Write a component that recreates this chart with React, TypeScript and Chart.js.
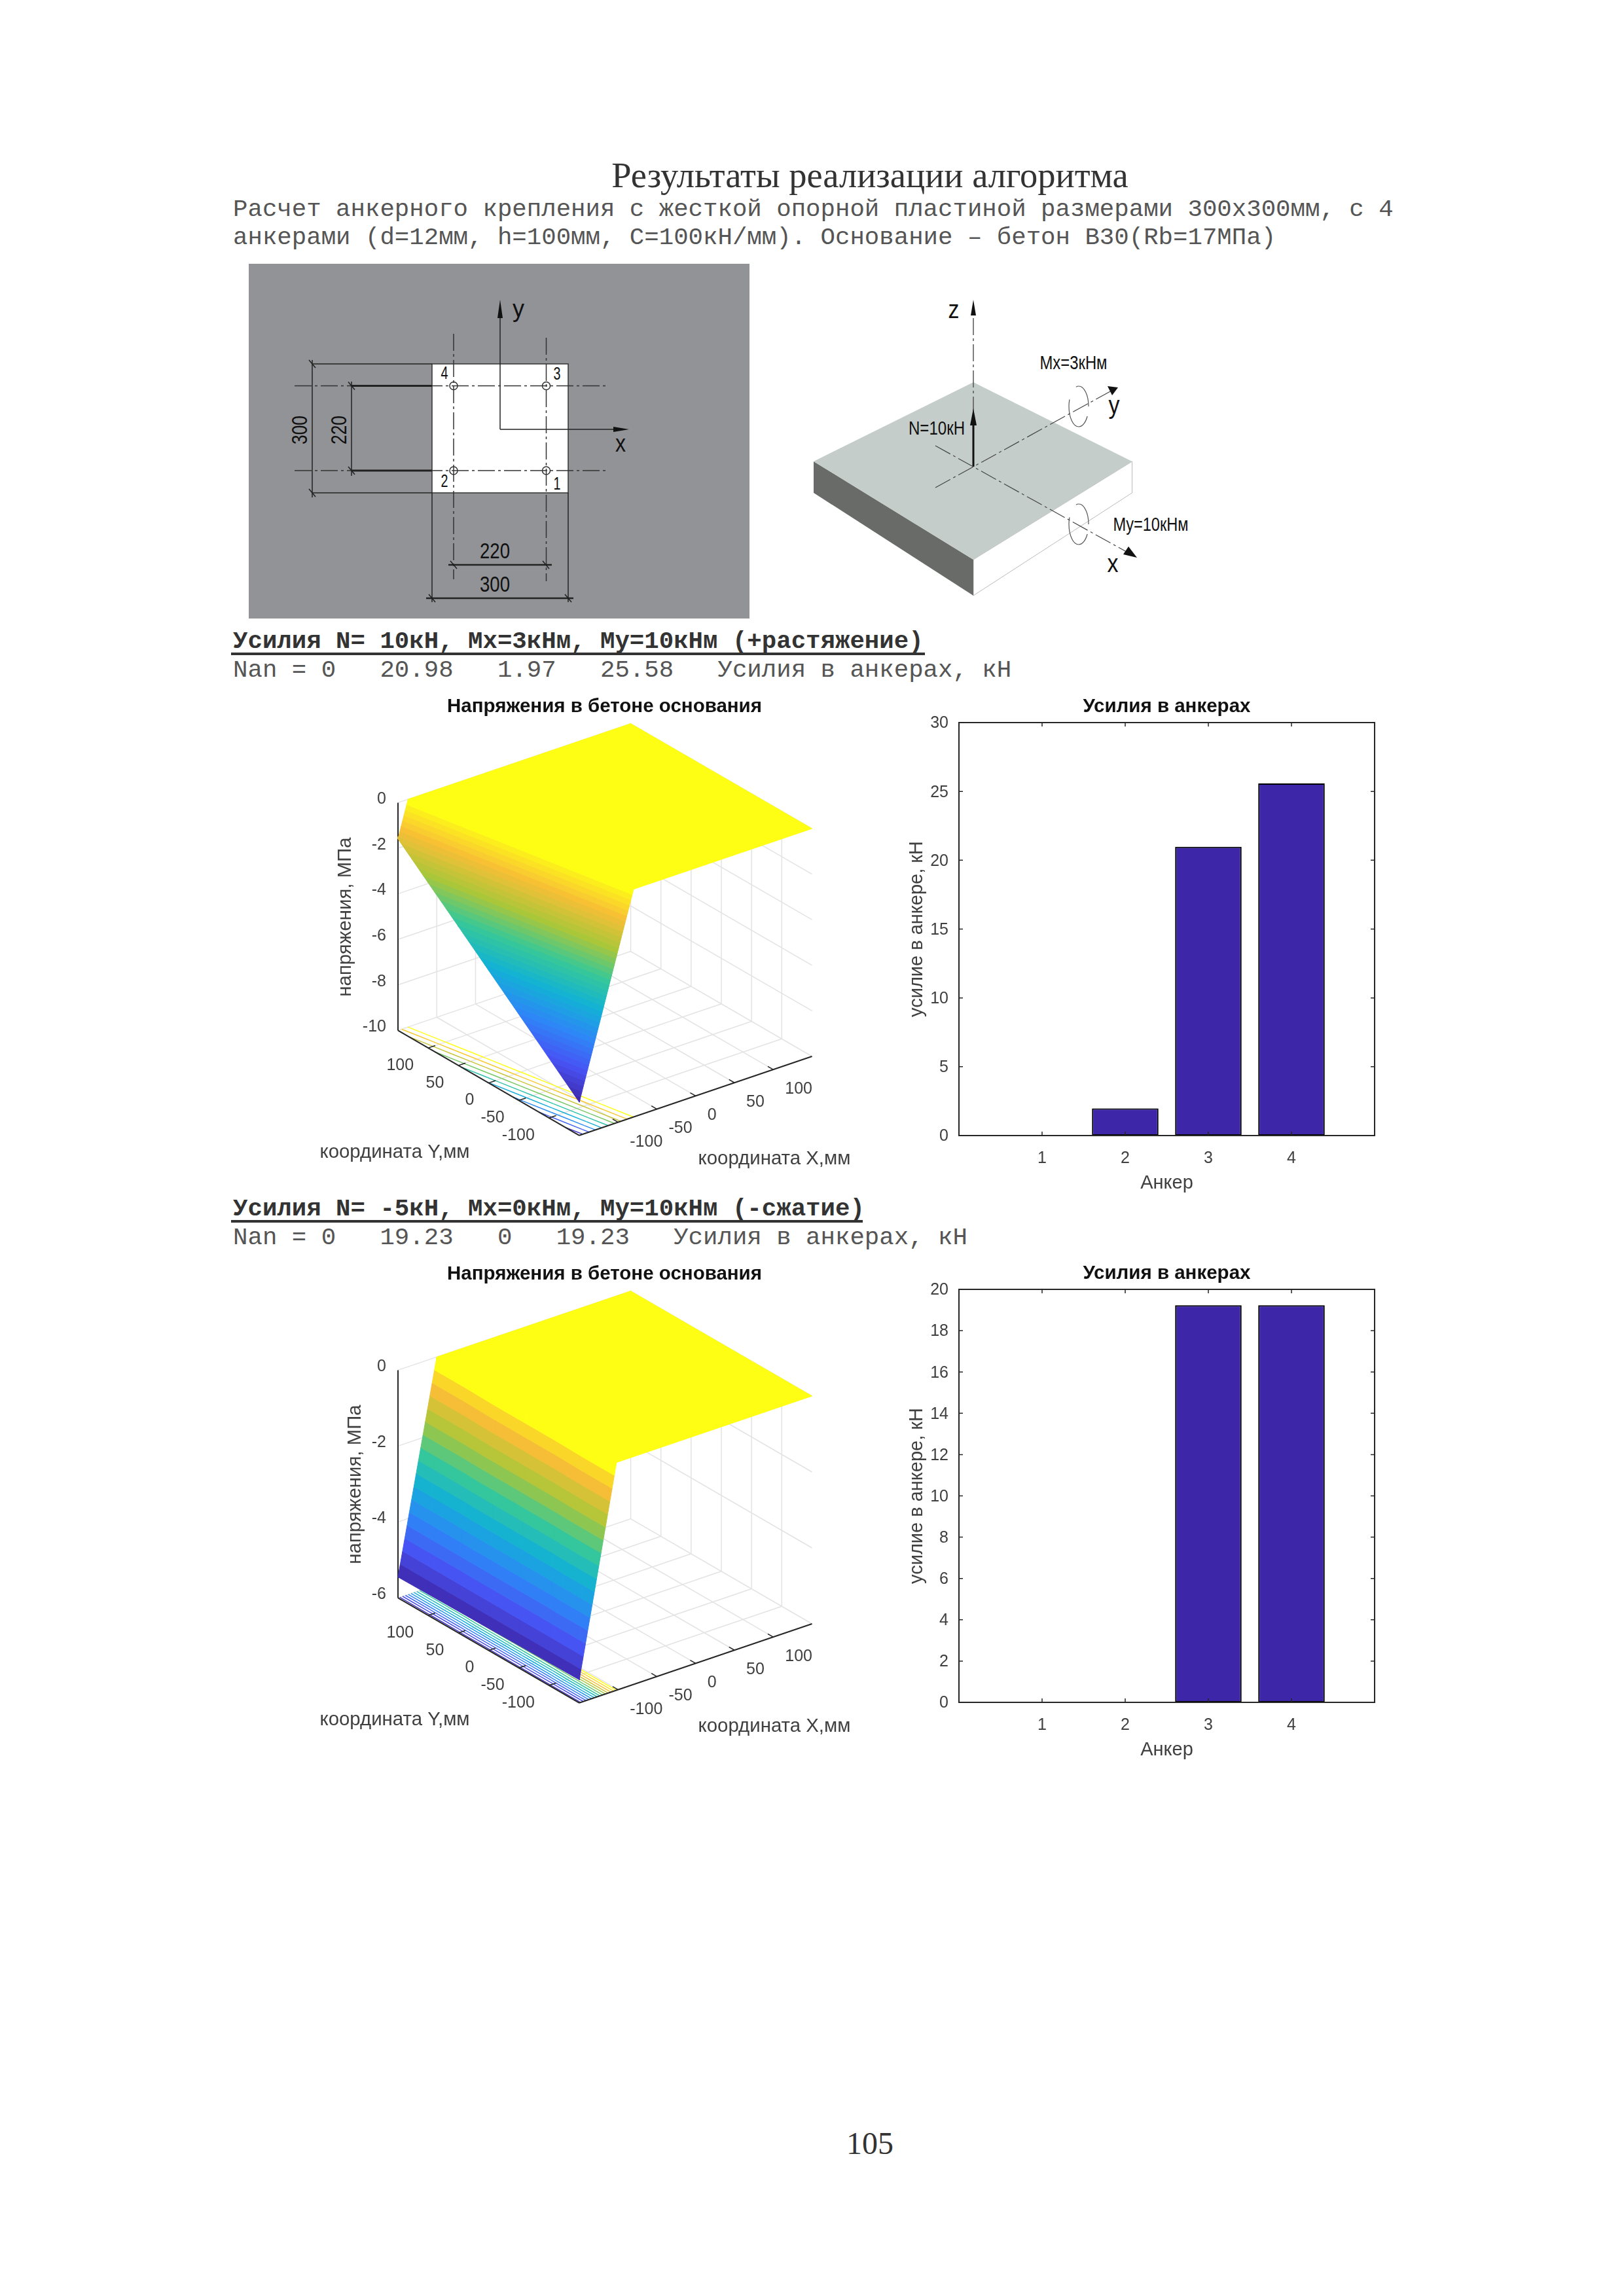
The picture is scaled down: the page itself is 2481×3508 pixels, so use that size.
import React, { useEffect, useRef } from "react";
import { Chart, registerables } from "chart.js";

Chart.register(...registerables);

// ---------- data ----------
const anchors = [1, 2, 3, 4];
const forcesCase1 = [0, 1.97, 20.98, 25.58];
const forcesCase2 = [0, 0, 19.23, 19.23];

const surfaceY = [-150, -100, -50, 0, 50, 100, 150];
const edgeStressCase1 = [-8.54, -7.38, -6.22, -5.06, -3.9, -2.75, -1.59];
const zeroLineCase1 = [-80, -89.5, -99, -108.5, -118, -127.5, -137];
const edgeStressCase2 = [-5.39, -5.4, -5.41, -5.42, -5.43, -5.44, -5.45];
const zeroLineCase2 = [-102, -102, -101, -101, -101, -100, -100];

const contourLevelsCase1 = [-8, -7, -6, -5, -4, -3, -2, -1, -0.02];
const contourLevelsCase2 = [-5.2, -4.8, -4.4, -4, -3.6, -3.2, -2.8, -2.4, -2, -1.6, -1.2, -0.8, -0.4, -0.02];

const planTicks = [-100, -50, 0, 50, 100];
const stressTicksCase1 = [-10, -8, -6, -4, -2, 0];
const stressTicksCase2 = [-6, -4, -2, 0];

const FS = "'Liberation Sans', Arial, sans-serif";
const parula = [
  [0.2422, 0.1504, 0.6603], [0.281, 0.3228, 0.9579], [0.1786, 0.5289, 0.9682], [0.0689, 0.6948, 0.8394],
  [0.2161, 0.7843, 0.5923], [0.672, 0.7793, 0.2227], [0.97, 0.7459, 0.2099], [0.995, 0.995, 0.0805],
];
function colormap(t: number) {
  const v = Math.max(0, Math.min(1, t)) * (parula.length - 1);
  const i = Math.min(parula.length - 2, Math.floor(v));
  const f = v - i;
  const c = parula[i].map((a, k) => Math.round(255 * (a + (parula[i + 1][k] - a) * f)));
  return `rgb(${c[0]},${c[1]},${c[2]})`;
}

type P3 = { X: number; Y: number; Z: number };
type SurfaceCfg = {
  top: number; edge: number[]; zero: number[]; levels: number[]; zTicks: number[]; bands: number;
  zTitleX: number;
};

function clip(poly: P3[], level: number, keepAbove: boolean) {
  const out: P3[] = [];
  const inside = (p: P3) => (keepAbove ? p.Z >= level : p.Z <= level);
  for (let i = 0; i < poly.length; i++) {
    const a = poly[i], b = poly[(i + 1) % poly.length];
    if (inside(a)) out.push(a);
    if (inside(a) !== inside(b)) {
      const t = (level - a.Z) / (b.Z - a.Z);
      out.push({ X: a.X + (b.X - a.X) * t, Y: a.Y + (b.Y - a.Y) * t, Z: level });
    }
  }
  return out;
}

function SurfaceChart({ cfg }: { cfg: SurfaceCfg }) {
  const ref = useRef<HTMLCanvasElement>(null);
  const L = 430, W = 880, H = 740, T = cfg.top;
  useEffect(() => {
    const zMin = cfg.zTicks[0];
    const front = { x: 885, y: T + 674.8 }, right = { x: 1240.5, y: T + 554 }, left = { x: 608, y: T + 514.4 };
    const zPx = 348;
    const project = (p: P3) => {
      const u = (p.X + 150) / 300, v = (p.Y + 150) / 300, w = (p.Z - zMin) / -zMin;
      return {
        x: front.x + u * (right.x - front.x) + v * (left.x - front.x),
        y: front.y + u * (right.y - front.y) + v * (left.y - front.y) - w * zPx,
      };
    };
    const datasets: any[] = [];
    const line = (pts: P3[], color: string, width: number) =>
      datasets.push({ data: pts.map(project), borderColor: color, borderWidth: width, pointRadius: 0, fill: false, tension: 0 });
    const grid = "#e3e3e3";
    for (const t of planTicks) {
      line([{ X: t, Y: -150, Z: zMin }, { X: t, Y: 150, Z: zMin }], grid, 1.5);
      line([{ X: -150, Y: t, Z: zMin }, { X: 150, Y: t, Z: zMin }], grid, 1.5);
      line([{ X: 150, Y: t, Z: zMin }, { X: 150, Y: t, Z: 0 }], grid, 1.5);
      line([{ X: t, Y: 150, Z: zMin }, { X: t, Y: 150, Z: 0 }], grid, 1.5);
    }
    for (const z of cfg.zTicks) {
      line([{ X: -150, Y: 150, Z: z }, { X: 150, Y: 150, Z: z }, { X: 150, Y: -150, Z: z }], grid, 1.5);
    }
    line([{ X: 150, Y: 150, Z: zMin }, { X: 150, Y: 150, Z: 0 }], grid, 1.5);

    // mesh
    const rows = surfaceY.map((Y, i) => [
      { X: -150, Y, Z: cfg.edge[i] }, { X: cfg.zero[i], Y, Z: 0 }, { X: 150, Y, Z: 0 },
    ]);
    const tris: P3[][] = [];
    for (let r = 0; r < rows.length - 1; r++)
      for (let c = 0; c < 2; c++) {
        tris.push([rows[r][c], rows[r][c + 1], rows[r + 1][c + 1]]);
        tris.push([rows[r][c], rows[r + 1][c + 1], rows[r + 1][c]]);
      }
    const sMin = Math.min(...cfg.edge);
    // contours on the floor
    for (const lev of cfg.levels) {
      const col = colormap((lev - sMin) / -sMin);
      for (const tri of tris) {
        const pts: P3[] = [];
        for (let i = 0; i < 3; i++) {
          const a = tri[i], b = tri[(i + 1) % 3];
          if ((a.Z > lev) !== (b.Z > lev)) {
            const t = (lev - a.Z) / (b.Z - a.Z);
            pts.push({ X: a.X + (b.X - a.X) * t, Y: a.Y + (b.Y - a.Y) * t, Z: zMin });
          }
        }
        if (pts.length === 2) line(pts, col, 1.5);
      }
    }
    // axes
    const axis = "#262626";
    line([{ X: -150, Y: 150, Z: zMin }, { X: -150, Y: 150, Z: 0 }], axis, 2);
    line([{ X: -150, Y: 150, Z: zMin }, { X: -150, Y: -150, Z: zMin }], axis, 2);
    line([{ X: -150, Y: -150, Z: zMin }, { X: 150, Y: -150, Z: zMin }], axis, 2);
    for (const t of planTicks) {
      line([{ X: -150, Y: t, Z: zMin }, { X: -141, Y: t, Z: zMin }], axis, 1.5);
      line([{ X: t, Y: -150, Z: zMin }, { X: t, Y: -141, Z: zMin }], axis, 1.5);
    }
    // surface bands
    const step = -sMin / cfg.bands;
    for (let b = 0; b < cfg.bands; b++) {
      const lo = sMin + b * step, hi = b === cfg.bands - 1 ? 0 : lo + step;
      const col = colormap(b === cfg.bands - 1 ? 1 : (b + 0.5) / cfg.bands);
      for (const tri of tris) {
        let poly = clip(tri, lo - 1e-9, true);
        if (poly.length >= 3) poly = clip(poly, hi + 1e-9, false);
        if (poly.length >= 3) {
          datasets.push({
            data: [...poly, poly[0]].map(project), borderColor: col, backgroundColor: col, borderWidth: 1,
            pointRadius: 0, fill: "shape", tension: 0,
          });
        }
      }
    }
    // Chart.js paints the first dataset last, so the list is turned round to paint floor, axes, then surface.
    datasets.reverse();
    const labels = {
      id: "surfaceLabels",
      afterDraw(chart: any) {
        const ctx = chart.ctx;
        const put = (s: string, x: number, y: number, align: CanvasTextAlign, font: string, color: string, rot = 0) => {
          ctx.save();
          ctx.translate(x - L, y - T);
          ctx.rotate(rot);
          ctx.font = font; ctx.fillStyle = color; ctx.textAlign = align; ctx.textBaseline = "middle";
          ctx.fillText(s, 0, 0);
          ctx.restore();
        };
        const tick = `25px ${FS}`, c = "#404040";
        for (const z of cfg.zTicks) {
          const p = project({ X: -150, Y: 150, Z: z });
          put(String(z), p.x - 18, p.y - 5, "right", tick, c);
        }
        for (const t of planTicks) {
          const p = project({ X: -150, Y: t, Z: zMin });
          put(String(t), p.x - 22, p.y + 27, "right", tick, c);
          const q = project({ X: t, Y: -150, Z: zMin });
          put(String(t), q.x + 18, q.y + 30, "left", tick, c);
        }
        const lab = `29.4px ${FS}`;
        put("координата Y,мм", 603, T + 701, "center", lab, c);
        put("координата X,мм", 1183, T + 711, "center", lab, c);
        put("напряжения, МПа", cfg.zTitleX + 2, T + 341, "center", lab, c, -Math.PI / 2);
        put("Напряжения в бетоне основания", 923.5, T + 20, "center", `bold 29.5px ${FS}`, "#111");
      },
    };
    const chart = new Chart(ref.current as HTMLCanvasElement, {
      type: "line",
      data: { datasets },
      plugins: [labels],
      options: {
        responsive: false, animation: false, devicePixelRatio: 1,
        layout: { padding: 0 },
        plugins: { legend: { display: false }, tooltip: { enabled: false } },
        scales: {
          x: { type: "linear", display: false, min: L, max: L + W },
          y: { type: "linear", display: false, min: T, max: T + H, reverse: true },
        },
      },
    } as any);
    return () => chart.destroy();
  }, []);
  return <canvas ref={ref} width={W} height={H} style={{ position: "absolute", left: L, top: T, width: W, height: H }} />;
}

function BarChart({ top, values, yMax, yStep }: { top: number; values: number[]; yMax: number; yStep: number }) {
  const ref = useRef<HTMLCanvasElement>(null);
  useEffect(() => {
    const frame = {
      id: "frame",
      afterDatasetsDraw(chart: any) {
        const { ctx, chartArea: a, scales } = chart;
        ctx.save();
        ctx.strokeStyle = "#262626"; ctx.lineWidth = 2;
        ctx.strokeRect(a.left, a.top, a.right - a.left, a.bottom - a.top);
        ctx.lineWidth = 1.5;
        ctx.beginPath();
        for (const t of scales.y.ticks) {
          const y = scales.y.getPixelForValue(t.value);
          ctx.moveTo(a.left, y); ctx.lineTo(a.left + 6, y);
          ctx.moveTo(a.right, y); ctx.lineTo(a.right - 6, y);
        }
        for (const t of scales.x.ticks) {
          if (t.value < 1 || t.value > 4) continue;
          const x = scales.x.getPixelForValue(t.value);
          ctx.moveTo(x, a.top); ctx.lineTo(x, a.top + 6);
          ctx.moveTo(x, a.bottom); ctx.lineTo(x, a.bottom - 6);
        }
        ctx.stroke();
        ctx.restore();
      },
    };
    const tickFont = { family: FS, size: 25 };
    const chart = new Chart(ref.current as HTMLCanvasElement, {
      type: "bar",
      data: {
        datasets: [{
          data: anchors.map((a, i) => ({ x: a, y: values[i] })),
          backgroundColor: "#3e26a8", borderColor: "#000", borderWidth: 2, borderSkipped: false,
          barPercentage: 0.8, categoryPercentage: 1,
        }],
      },
      plugins: [frame],
      options: {
        responsive: false, animation: false, devicePixelRatio: 1,
        layout: { padding: { left: 0, right: 125, top: 0, bottom: 0 } },
        plugins: {
          legend: { display: false }, tooltip: { enabled: false },
          title: {
            display: true, text: "Усилия в анкерах", fullSize: false, color: "#111",
            font: { family: FS, size: 29.5, weight: "bold" }, padding: { top: 22, bottom: 6.6 },
          },
        },
        scales: {
          x: {
            type: "linear", min: 0, max: 5, offset: false,
            grid: { display: false }, border: { display: false },
            ticks: {
              stepSize: 1, font: tickFont, color: "#404040", padding: 12, maxRotation: 0, autoSkip: false,
              callback: (v: number) => (v >= 1 && v <= 4 ? String(v) : ""),
            },
            title: { display: true, text: "Анкер", color: "#404040", font: { family: FS, size: 29 }, padding: { top: 0, bottom: 20 } },
            afterFit: (s: any) => { s.height = 110; },
          },
          y: {
            min: 0, max: yMax,
            grid: { display: false }, border: { display: false },
            ticks: { stepSize: yStep, font: tickFont, color: "#404040", padding: 8, labelOffset: 1.5 },
            title: { display: true, text: "усилие в анкере, кН", color: "#404040", font: { family: FS, size: 29 }, padding: { top: 44, bottom: 0 } },
            afterFit: (s: any) => { s.width = 125; },
          },
        },
      },
    } as any);
    return () => chart.destroy();
  }, []);
  return <canvas ref={ref} width={885} height={805} style={{ position: "absolute", left: 1340, top, width: 885, height: 805 }} />;
}

function Mono({ y, children, bold }: { y: number; children: string; bold?: boolean }) {
  return (
    <div style={{
      position: "absolute", left: 356, top: y - 22, height: 44, lineHeight: "44px", whiteSpace: "pre",
      fontFamily: "'Liberation Mono', monospace", fontSize: 37.4, color: bold ? "#333" : "#555", fontWeight: bold ? 700 : 400,
    }}>{children}</div>
  );
}

const dashDot = "26 5 4 5";
function Diagrams() {
  const T = (p: any) => <text fontFamily={FS} fill="#111" textAnchor="middle" dominantBaseline="middle" lengthAdjust="spacingAndGlyphs" {...p} />;
  const ln = { stroke: "#222", strokeWidth: 1.5 };
  const dd = { stroke: "#333", strokeWidth: 1.5, strokeDasharray: dashDot };
  return (
    <svg width={2481} height={1000} style={{ position: "absolute", left: 0, top: 0 }}>
      <rect x={380} y={403} width={765} height={542} fill="#929397" />
      <rect x={660} y={556} width={208} height={197} fill="#fff" stroke="#333" strokeWidth={1.5} />
      <line x1={764} y1={656} x2={764} y2={465} {...ln} />
      <polygon points="764,458 760,486 768,486" fill="#111" />
      <line x1={764} y1={656} x2={950} y2={656} {...ln} />
      <polygon points="961,656 937,652 937,660" fill="#111" />
      <T x={792} y={474} fontSize={36} textLength={18}>y</T>
      <T x={948} y={680} fontSize={36} textLength={16}>x</T>
      <line x1={450} y1={589.5} x2={926} y2={589.5} {...dd} />
      <line x1={450} y1={719} x2={926} y2={719} {...dd} />
      <line x1={693} y1={510} x2={693} y2={885} {...dd} />
      <line x1={834.5} y1={516} x2={834.5} y2={888} {...dd} />
      <line x1={537} y1={589.5} x2={660} y2={589.5} stroke="#222" strokeWidth={3} />
      <line x1={537} y1={719} x2={660} y2={719} stroke="#222" strokeWidth={3} />
      {[[693, 589.5], [834.5, 589.5], [693, 719], [834.5, 719]].map(([x, y], i) => (
        <circle key={i} cx={x} cy={y} r={6} fill="none" stroke="#333" strokeWidth={1.5} />
      ))}
      <T x={679} y={572} fontSize={28} textLength={11}>4</T>
      <T x={851} y={573} fontSize={28} textLength={11}>3</T>
      <T x={679} y={737} fontSize={28} textLength={11}>2</T>
      <T x={851} y={741} fontSize={28} textLength={11}>1</T>
      <line x1={477} y1={550} x2={477} y2={760} {...ln} />
      <line x1={477} y1={556} x2={660} y2={556} {...ln} />
      <line x1={477} y1={753} x2={660} y2={753} {...ln} />
      <line x1={537} y1={583} x2={537} y2={727} {...ln} />
      <line x1={660} y1={753} x2={660} y2={920} {...ln} />
      <line x1={868} y1={753} x2={868} y2={920} {...ln} />
      <line x1={651} y1={914} x2={876} y2={914} stroke="#222" strokeWidth={2.5} />
      <line x1={685} y1={863} x2={843} y2={863} stroke="#222" strokeWidth={2.5} />
      {[[477, 556], [477, 753], [537, 589.5], [537, 719], [660, 914], [868, 914], [693, 863], [834, 863]].map(([x, y], i) => (
        <line key={i} x1={x - 5} y1={y - 6} x2={x + 5} y2={y + 6} {...ln} />
      ))}
      <T x={460} y={657} fontSize={33} textLength={44} transform="rotate(-90 460 657)">300</T>
      <T x={520} y={657} fontSize={33} textLength={44} transform="rotate(-90 520 657)">220</T>
      <T x={756} y={844} fontSize={33} textLength={46}>220</T>
      <T x={756} y={895} fontSize={33} textLength={46}>300</T>

      <polygon points="1729.5,705 1729.5,753 1487,910 1487,855" fill="#fff" stroke="#bbb" strokeWidth={1} />
      <polygon points="1243,705 1487,855 1487,910 1243,753" fill="#696b69" />
      <polygon points="1487,584 1729.5,705 1487,855 1243,705" fill="#c5cdca" />
      <line x1={1487} y1={712} x2={1487} y2={465} stroke="#555" strokeWidth={1.5} strokeDasharray={dashDot} />
      <polygon points="1487,458 1483,482 1491,482" fill="#111" />
      <line x1={1487} y1={713} x2={1487} y2={640} stroke="#111" strokeWidth={3} />
      <polygon points="1487,624 1482,650 1492,650" fill="#111" />
      <line x1={1429} y1={745} x2={1698} y2={597} stroke="#444" strokeWidth={1.2} strokeDasharray={dashDot} />
      <polygon points="1692,590 1708,592 1699,604" fill="#111" />
      <line x1={1429} y1={681} x2={1728} y2={847} stroke="#444" strokeWidth={1.2} strokeDasharray={dashDot} />
      <polygon points="1737,852 1716,847 1724,835" fill="#111" />
      <T x={1457} y={476} fontSize={38} textLength={17}>z</T>
      <T x={1702} y={622} fontSize={38} textLength={17}>y</T>
      <T x={1700} y={864} fontSize={38} textLength={17}>x</T>
      <T x={1431} y={656} fontSize={29} textLength={86}>N=10кН</T>
      <T x={1640} y={556} fontSize={29} textLength={103}>Mx=3кНм</T>
      <T x={1758} y={803} fontSize={29} textLength={115}>My=10кНм</T>
      <ellipse cx={1648} cy={621} rx={15} ry={31} fill="none" stroke="#555" strokeWidth={1.2} strokeDasharray="70 22" strokeDashoffset={-15} />
      <ellipse cx={1648} cy={801} rx={15} ry={31} fill="none" stroke="#555" strokeWidth={1.2} strokeDasharray="70 22" strokeDashoffset={-15} />
    </svg>
  );
}

const mainCase: SurfaceCfg = {
  top: 1060, edge: edgeStressCase1, zero: zeroLineCase1, levels: contourLevelsCase1,
  zTicks: stressTicksCase1, bands: 40, zTitleX: 526,
};
const secondCase: SurfaceCfg = {
  top: 1926.5, edge: edgeStressCase2, zero: zeroLineCase2, levels: contourLevelsCase2,
  zTicks: stressTicksCase2, bands: 17, zTitleX: 541,
};

export default function App() {
  return (
    <div style={{ position: "absolute", left: 0, top: 0, width: 2481, height: 3508, background: "#fff", overflow: "hidden" }}>
      <div style={{
        position: "absolute", left: 0, width: 2658, top: 236, height: 64, lineHeight: "64px", textAlign: "center",
        fontFamily: "'Liberation Serif', serif", fontSize: 54.5, color: "#333",
      }}>Результаты реализации алгоритма</div>
      <Mono y={320}>Расчет анкерного крепления с жесткой опорной пластиной размерами 300х300мм, с 4</Mono>
      <Mono y={363}>{"анкерами (d=12мм, h=100мм, C=100кН/мм). Основание – бетон В30(Rb=17МПа)"}</Mono>
      <Diagrams />
      <Mono y={980} bold>Усилия N= 10кН, Mx=3кНм, My=10кНм (+растяжение)</Mono>
      <div style={{ position: "absolute", left: 353, width: 1060, top: 997, height: 4, background: "#333" }} />
      <Mono y={1024}>{"Nan = 0   20.98   1.97   25.58   Усилия в анкерах, кН"}</Mono>
      <SurfaceChart cfg={mainCase} />
      <BarChart top={1040} values={forcesCase1} yMax={30} yStep={5} />
      <Mono y={1847} bold>Усилия N= -5кН, Mx=0кНм, My=10кНм (-сжатие)</Mono>
      <div style={{ position: "absolute", left: 353, width: 965, top: 1864, height: 4, background: "#333" }} />
      <Mono y={1891}>{"Nan = 0   19.23   0   19.23   Усилия в анкерах, кН"}</Mono>
      <SurfaceChart cfg={secondCase} />
      <BarChart top={1906} values={forcesCase2} yMax={20} yStep={2} />
      <div style={{
        position: "absolute", left: 0, width: 2658, top: 3245, height: 60, lineHeight: "60px", textAlign: "center",
        fontFamily: "'Liberation Serif', serif", fontSize: 48, color: "#333",
      }}>105</div>
    </div>
  );
}
